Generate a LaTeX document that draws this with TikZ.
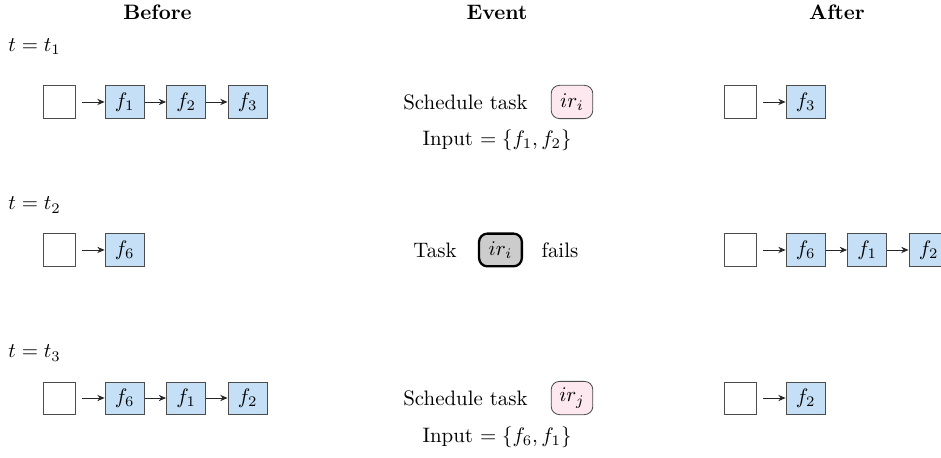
\documentclass[tikz,border=0pt]{standalone}
\usepackage{amsmath}
\usepackage{amssymb}
\usepackage{tikz}
\usetikzlibrary{arrows.meta}
\usetikzlibrary{positioning}
\tikzset{slot/.style = {draw=black!70, minimum width=0.54cm, minimum height=0.54cm, inner sep=0}}
\tikzset{fbox/.style = {draw=black!70, fill=fblue, minimum width=0.66cm,
                        minimum height=0.54cm, inner sep=0}}
\tikzset{irbox/.style = {draw=black!70, fill=irpink, rounded corners=4pt,
                         minimum width=0.70cm, minimum height=0.56cm, inner sep=0}}
\tikzset{failbox/.style = {draw=black, line width=1.1pt, fill=black!20, rounded corners=4pt,
                           minimum width=0.72cm, minimum height=0.55cm, inner sep=0}}
\tikzset{link/.style = {-{Stealth[length=3.5pt, width=3pt]}, black!85}}
\tikzset{stamp/.style = {anchor=west, inner sep=0}}
\definecolor{fblue}{RGB}{197,224,246}
\definecolor{irpink}{RGB}{252,232,238}

\begin{document}
\begin{tikzpicture}
    \useasboundingbox (0, 0) rectangle (15.826, -7.686);
    % column heads
    \node (hbefore) at (2.649, -0.21) {\textbf{Before}};
    \node (hevent) at (8.359, -0.21) {\textbf{Event}};
    \node (hafter) at (14.077, -0.21) {\textbf{After}};
    % time stamps
    \node [stamp] (t1) at (0.135, -0.79) {$t = t_1$};
    \node [stamp] (t2) at (0.135, -3.448) {$t = t_2$};
    \node [stamp] (t3) at (0.135, -5.937) {$t = t_3$};

    % t_1: before
    \node [slot] (b1) at (0.992, -1.715) {};
    \node [fbox, right=0.49cm of b1] (b1f1) {$f_1$};
    \node [fbox, right=0.36cm of b1f1] (b1f2) {$f_2$};
    \node [fbox, right=0.36cm of b1f2] (b1f3) {$f_3$};
    \draw [link, shorten <=3.3pt] (b1) -- (b1f1);
    \draw [link] (b1f1) -- (b1f2);
    \draw [link] (b1f2) -- (b1f3);
    % t_1: event
    \node (sched1) at (7.829, -1.715) {Schedule task};
    \node [irbox] (ir1) at (9.62, -1.715) {$ir_i$};
    \node (in1) at (8.359, -2.354) {Input $= \{f_1, f_2\}$};
    % t_1: after
    \node [slot] (a1) at (12.445, -1.715) {};
    \node [fbox, right=0.49cm of a1] (a1f3) {$f_3$};
    \draw [link, shorten <=3.3pt] (a1) -- (a1f3);

    % t_2: before
    \node [slot] (b2) at (0.992, -4.204) {};
    \node [fbox, right=0.49cm of b2] (b2f6) {$f_6$};
    \draw [link, shorten <=3.3pt] (b2) -- (b2f6);
    % t_2: event
    \node (task2) at (7.316, -4.204) {Task};
    \node [failbox] (ir2) at (8.417, -4.204) {$ir_i$};
    \node (fails2) at (9.418, -4.204) {fails};
    % t_2: after
    \node [slot] (a2) at (12.445, -4.204) {};
    \node [fbox, right=0.49cm of a2] (a2f6) {$f_6$};
    \node [fbox, right=0.36cm of a2f6] (a2f1) {$f_1$};
    \node [fbox, right=0.36cm of a2f1] (a2f2) {$f_2$};
    \draw [link, shorten <=3.3pt] (a2) -- (a2f6);
    \draw [link] (a2f6) -- (a2f1);
    \draw [link] (a2f1) -- (a2f2);

    % t_3: before
    \node [slot] (b3) at (0.992, -6.694) {};
    \node [fbox, right=0.49cm of b3] (b3f6) {$f_6$};
    \node [fbox, right=0.36cm of b3f6] (b3f1) {$f_1$};
    \node [fbox, right=0.36cm of b3f1] (b3f2) {$f_2$};
    \draw [link, shorten <=3.3pt] (b3) -- (b3f6);
    \draw [link] (b3f6) -- (b3f1);
    \draw [link] (b3f1) -- (b3f2);
    % t_3: event
    \node (sched3) at (7.829, -6.694) {Schedule task};
    \node [irbox] (ir3) at (9.62, -6.694) {$ir_j$};
    \node (in3) at (8.359, -7.349) {Input $= \{f_6, f_1\}$};
    % t_3: after
    \node [slot] (a3) at (12.445, -6.694) {};
    \node [fbox, right=0.49cm of a3] (a3f2) {$f_2$};
    \draw [link, shorten <=3.3pt] (a3) -- (a3f2);
  \end{tikzpicture}
\end{document}
